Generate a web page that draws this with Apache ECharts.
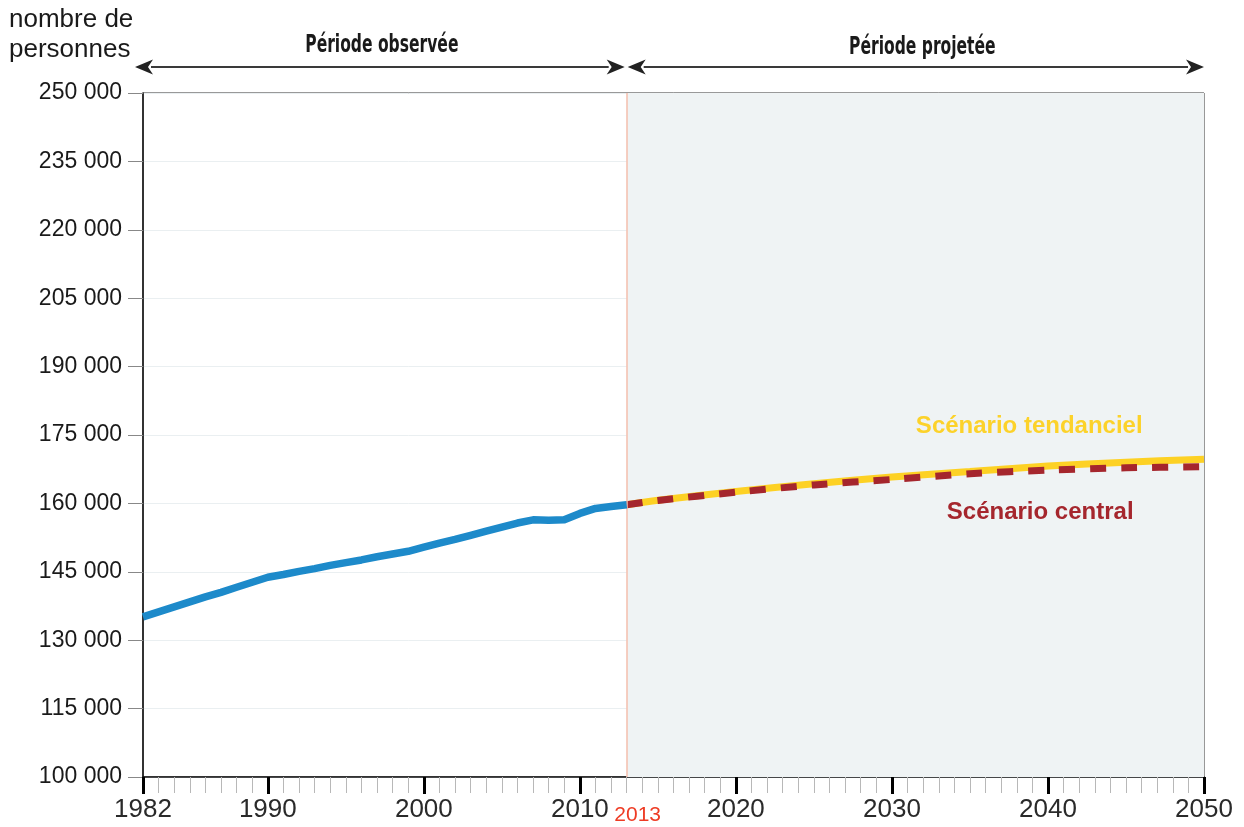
<!DOCTYPE html>
<html><head><meta charset="utf-8">
<script src="https://cdn.jsdelivr.net/npm/echarts@6/dist/echarts.min.js"></script>
<style>html,body{margin:0;padding:0;background:#fff}#c{width:1244px;height:827px}</style>
</head><body><div id="c"></div>
<script>
// ---- data ----
const obsYears = [1982,1983,1984,1985,1986,1987,1988,1989,1990,1991,1992,1993,1994,1995,1996,1997,1998,1999,2000,2001,2002,2003,2004,2005,2006,2007,2008,2009,2010,2011,2012,2013];
const obsValues = [135100,136200,137300,138400,139500,140500,141600,142700,143800,144400,145100,145700,146400,147000,147600,148300,148900,149500,150400,151300,152100,153000,153900,154800,155700,156400,156300,156400,157800,158900,159300,159700];
const projYears = [2013,2015,2020,2025,2030,2035,2040,2045,2050];
const tendValues = [159700,160700,162600,164300,165800,167000,168200,169050,169700];
const centralValues = [159700,160650,162450,164050,165250,166500,167300,167800,168050];
const yMin = 100000, yMax = 250000, yStep = 15000;
const xMin = 1982, xMax = 2050, splitYear = 2013;
const xMajorTicks = [1982,1990,2000,2010,2020,2030,2040,2050];
const xLabelYears = [1982,1990,2000,2010,2013,2020,2030,2040,2050];
const yAxisTitle = 'nombre de\npersonnes';
const periodObs = 'Période observée';
const periodProj = 'Période projetée';
const nameTend = 'Scénario tendanciel';
const nameCentral = 'Scénario central';
const labelTend = [2038.8, 176900];
const labelCentral = [2039.5, 158100];

const pairs = (xs, ys) => xs.map((x, i) => [x, ys[i]]);
const fmt = v => String(v).replace(/\B(?=(\d{3})+(?!\d))/g, ' ');
const FONT = 'Liberation Sans, Arial, sans-serif';

const chart = echarts.init(document.getElementById('c'), null, {renderer: 'canvas'});
chart.setOption({
  animation: false,
  backgroundColor: '#ffffff',
  grid: {left: 143, right: 40, top: 93, bottom: 50, show: true, borderColor: '#333', borderWidth: 1, backgroundColor: '#ffffff'},
  xAxis: [{
    type: 'value', min: xMin, max: xMax, interval: 1,
    axisLine: {show: true, onZero: false, lineStyle: {color: '#111', width: 1.5}},
    axisTick: {show: true, length: 16, lineStyle: {color: '#b8b8b8', width: 1}},
    axisLabel: {show: false},
    splitLine: {show: false}
  }, {
    type: 'value', min: xMin, max: xMax, position: 'bottom',
    axisLine: {show: false},
    axisTick: {show: true, length: 17, customValues: xMajorTicks, lineStyle: {color: '#000', width: 3}},
    axisLabel: {
      show: true, customValues: xLabelYears, margin: 20, fontSize: 26, color: '#2a2a2a', fontFamily: FONT,
      showMinLabel: true, showMaxLabel: true, hideOverlap: false,
      formatter: v => v === splitYear ? '{r|' + v + '}' : String(v),
      rich: {r: {color: '#ee3b24', fontSize: 21, fontFamily: FONT, padding: [8, 0, 0, 22]}}
    },
    splitLine: {show: false}
  }],
  yAxis: {
    type: 'value', min: yMin, max: yMax, interval: yStep,
    axisLine: {show: true, lineStyle: {color: '#111', width: 1.5}},
    axisTick: {show: true, length: 15, lineStyle: {color: '#888', width: 1}},
    axisLabel: {fontSize: 23, color: '#1a1a1a', fontFamily: FONT, margin: 21, formatter: fmt},
    splitLine: {show: true, lineStyle: {color: '#eaeff1', width: 1}}
  },
  series: [{
    name: nameTend, type: 'line', xAxisIndex: 0, data: pairs(projYears, tendValues),
    smooth: 0.3, showSymbol: false, z: 3,
    lineStyle: {color: '#fdd124', width: 7, cap: 'butt'},
    markArea: {silent: true, itemStyle: {color: '#eff3f4'}, data: [[{xAxis: splitYear}, {xAxis: xMax}]]},
    markLine: {silent: true, symbol: 'none', label: {show: false}, lineStyle: {color: '#f5bfae', width: 1.5, type: 'solid'}, data: [{xAxis: splitYear}]}
  }, {
    name: nameCentral, type: 'line', xAxisIndex: 0, data: pairs(projYears, centralValues),
    smooth: 0.3, showSymbol: false, z: 4,
    lineStyle: {color: '#a5262d', width: 7, type: [16, 15], cap: 'butt'}
  }, {
    name: 'observé', type: 'line', xAxisIndex: 0, data: pairs(obsYears, obsValues),
    smooth: false, showSymbol: false, z: 5,
    lineStyle: {color: '#1d8aca', width: 7.5, join: 'round'}
  }]
});

const xs = v => chart.convertToPixel({xAxisIndex: 0}, v);
const ys = v => chart.convertToPixel({yAxisIndex: 0}, v);
const xL = xs(xMin), xS = xs(splitYear), xR = xs(xMax);
const arrowY = 67;
function arrow(x1, x2) {
  const h = 18, w = 7.5;
  return [
    {type: 'line', shape: {x1: x1 + h - 2, y1: arrowY, x2: x2 - h + 2, y2: arrowY}, style: {stroke: '#3a3a3a', lineWidth: 2}},
    {type: 'polygon', shape: {points: [[x1, arrowY], [x1 + h, arrowY - w], [x1 + h - 5, arrowY], [x1 + h, arrowY + w]]}, style: {fill: '#222'}},
    {type: 'polygon', shape: {points: [[x2, arrowY], [x2 - h, arrowY - w], [x2 - h + 5, arrowY], [x2 - h, arrowY + w]]}, style: {fill: '#222'}}
  ];
}
const titleStyle = {font: 'bold 24px "DejaVu Sans Condensed", "DejaVu Sans", sans-serif', fill: '#1a1a1a', align: 'center', verticalAlign: 'middle'};
chart.setOption({
  graphic: [
    {type: 'text', left: 9, top: 5, style: {text: yAxisTitle, font: '26px ' + FONT, fill: '#1a1a1a', lineHeight: 30}},
    ...arrow(xL - 8, xS - 2),
    ...arrow(xS + 1, xR),
    {type: 'text', x: (xL + xS) / 2 - 3, y: 46, scaleX: 0.72, style: Object.assign({text: periodObs}, titleStyle)},
    {type: 'text', x: (xS + xR) / 2 + 7, y: 48, scaleX: 0.72, style: Object.assign({text: periodProj}, titleStyle)},
    {type: 'text', z: 100, x: xs(labelTend[0]), y: ys(labelTend[1]), style: {text: nameTend, font: 'bold 24px ' + FONT, fill: '#fcd22a', align: 'center', verticalAlign: 'middle'}},
    {type: 'text', z: 100, x: xs(labelCentral[0]), y: ys(labelCentral[1]), style: {text: nameCentral, font: 'bold 24px ' + FONT, fill: '#a5262d', align: 'center', verticalAlign: 'middle'}}
  ]
});
</script></body></html>
